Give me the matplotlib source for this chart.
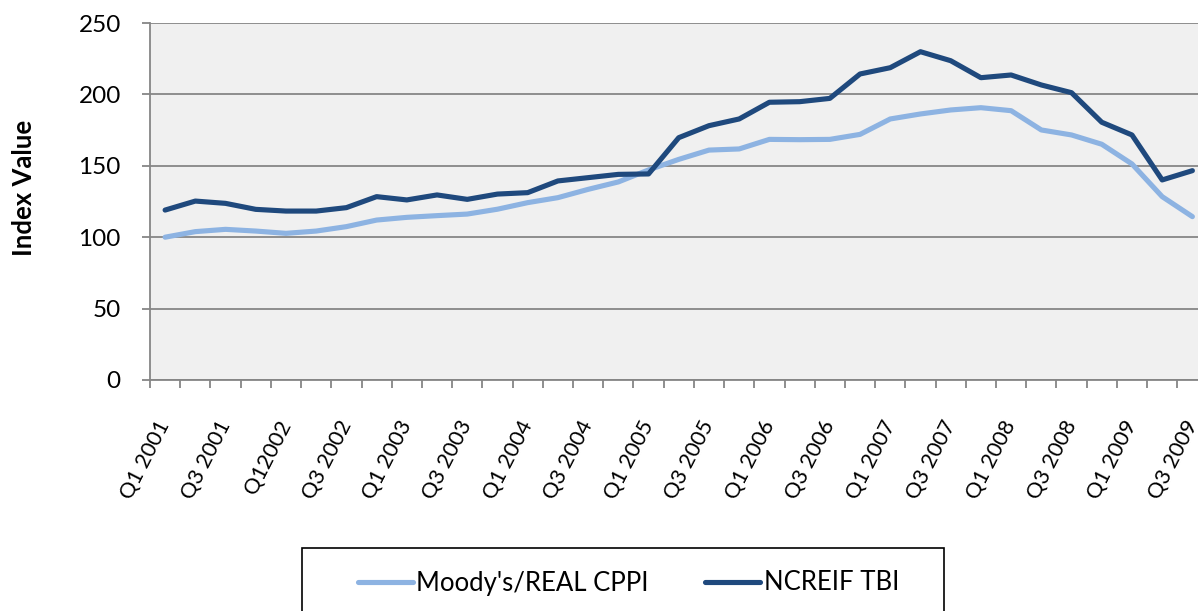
import numpy as np
import matplotlib
matplotlib.use("Agg")
from matplotlib import pyplot as plt
from matplotlib.patches import Rectangle
from matplotlib.transforms import ScaledTranslation

fontsize = 17.5
matplotlib.rc('font', family=['Lato', 'DejaVu Sans'], size=fontsize)

# quarterly index values, Q1 2001 .. Q3 2009
moodys = [100.0, 103.9, 105.5, 104.3, 102.7, 104.3, 107.4, 112.0, 113.9, 115.1,
          116.2, 119.6, 124.2, 127.7, 133.5, 138.7, 147.1, 154.5, 161.0, 161.8,
          168.5, 168.3, 168.5, 172.0, 182.8, 186.3, 189.1, 190.7, 188.6, 175.1,
          171.6, 165.1, 151.3, 128.4, 114.4]
ncreif = [119.0, 125.3, 123.7, 119.5, 118.3, 118.3, 120.7, 128.4, 126.1, 129.6,
          126.5, 130.2, 131.2, 139.4, 141.7, 144.0, 144.3, 169.7, 178.1, 182.8,
          194.5, 194.9, 197.2, 214.3, 218.7, 229.9, 223.6, 211.7, 213.6, 206.6,
          201.2, 180.5, 171.6, 140.1, 146.6]
tick_labels = ['Q1 2001', 'Q3 2001', 'Q12002', 'Q3 2002', 'Q1 2003', 'Q3 2003',
               'Q1 2004', 'Q3 2004', 'Q1 2005', 'Q3 2005', 'Q1 2006', 'Q3 2006',
               'Q1 2007', 'Q3 2007', 'Q1 2008', 'Q3 2008', 'Q1 2009', 'Q3 2009']
series_names = ["Moody's/REAL CPPI", "NCREIF TBI"]

W, H = 1198, 611
fig = plt.figure(figsize=(W / 100, H / 100), dpi=100)
# plot area runs past the right edge of the figure, like the original crop
ax = fig.add_axes([150 / W, (H - 380) / H, 1057.5 / W, 357 / H])
ax.set_facecolor('#f0f0f0')

grey = '#868686'
x = np.arange(len(moodys))
ax.plot(x, moodys, color='#8db3e2', lw=3.7, label=series_names[0],
        solid_capstyle='round', zorder=3)
ax.plot(x, ncreif, color='#1f497d', lw=3.7, label=series_names[1],
        solid_capstyle='round', zorder=4)

ax.set_xlim(-0.5, len(moodys) - 0.5)
ax.set_ylim(0, 250)
ax.set_yticks(np.arange(0, 251, 50))
ax.yaxis.grid(True, color=grey, lw=1.3)
ax.set_axisbelow(True)

ax.set_xticks(x[::2])
ax.set_xticklabels(tick_labels, rotation=63, ha='right', va='center',
                   rotation_mode='anchor', fontsize=15.6)
shift = ScaledTranslation(8 / 100, 0, fig.dpi_scale_trans)
for lab in ax.get_xticklabels():
    lab.set_transform(lab.get_transform() + shift)
ax.set_xticks(np.arange(-0.5, len(moodys), 1), minor=True)
ax.tick_params(axis='x', which='major', length=0, pad=30)
ax.tick_params(axis='x', which='minor', length=6, width=1.3, color=grey)
ax.tick_params(axis='y', length=6, width=1.3, color=grey, pad=15)

for s in ['top', 'right']:
    ax.spines[s].set_visible(False)
for s in ['left', 'bottom']:
    ax.spines[s].set_color(grey)
    ax.spines[s].set_linewidth(1.3)

fig.text(24 / W, 1 - 188 / H, 'Index Value', rotation=90, ha='center',
         va='center', fontweight='bold', fontsize=18.5)

fig.patches.append(Rectangle((302 / W, -0.05), 642 / W, (H - 548) / H + 0.05,
                             transform=fig.transFigure, fill=False,
                             edgecolor='black', lw=1.2))
fig.legend(loc='center left', bbox_to_anchor=(345 / W, 1 - 583 / H), ncol=2,
           frameon=False, fontsize=18.5, borderpad=0, handlelength=2.15,
           handletextpad=0.12, columnspacing=2.2)

fig.savefig('out.png', dpi=100)
